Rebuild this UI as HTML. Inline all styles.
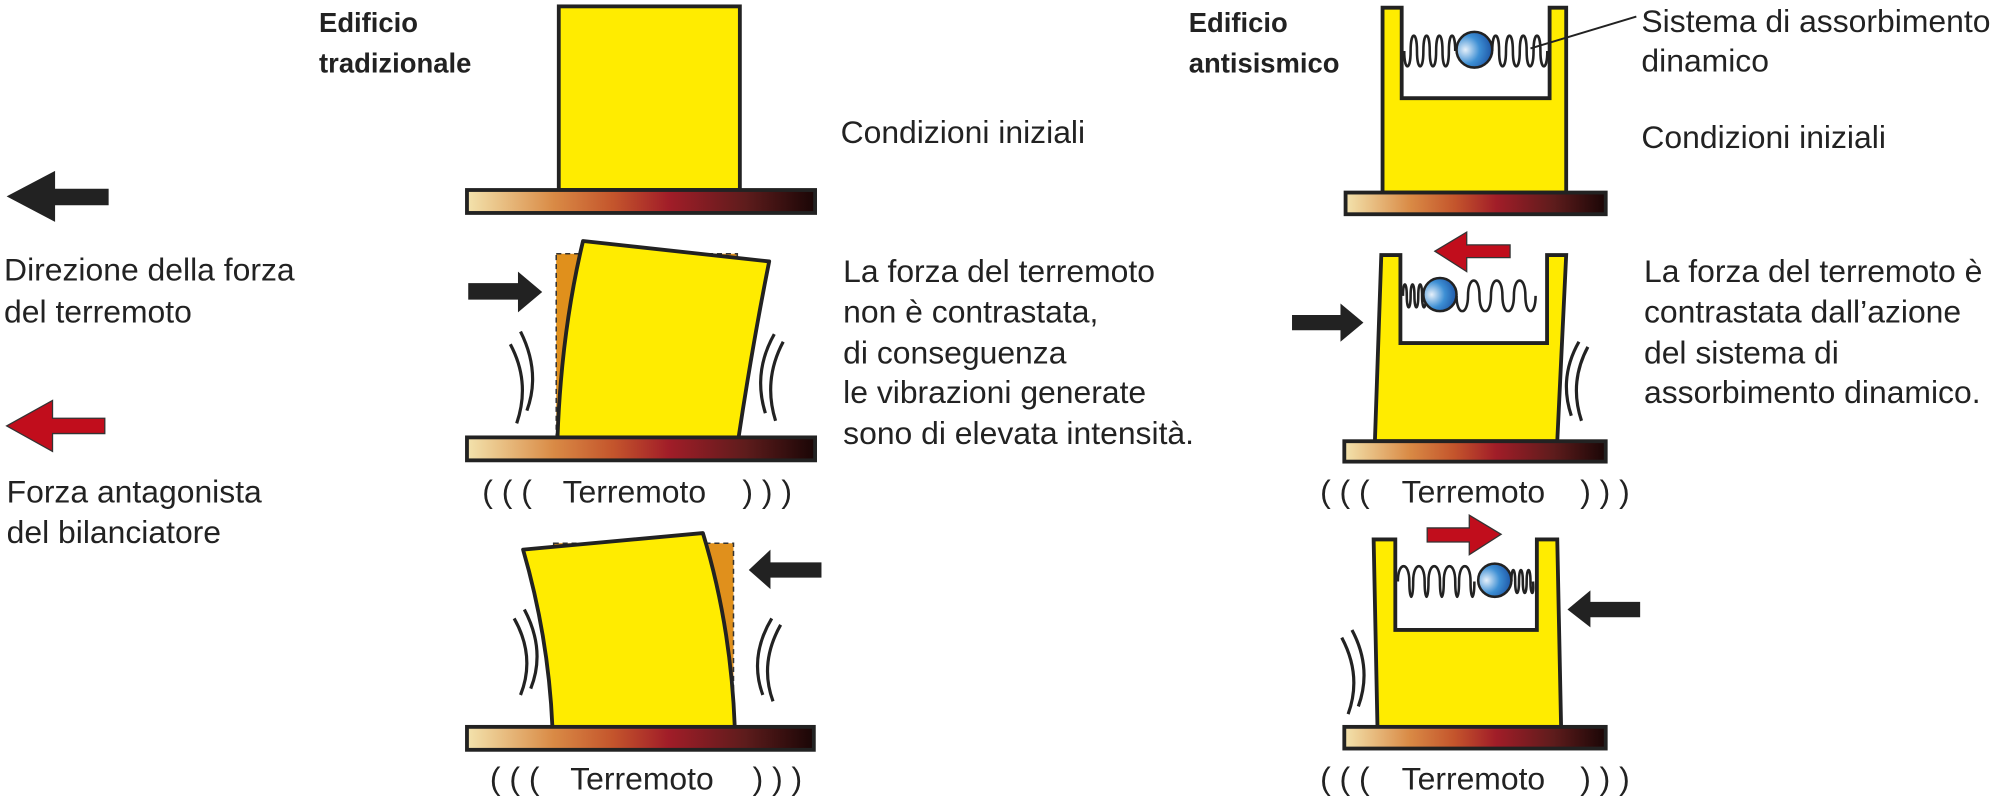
<!DOCTYPE html>
<html><head><meta charset="utf-8">
<style>
html,body{margin:0;padding:0;background:#fff;}
svg{display:block;}
text{font-family:"Liberation Sans",Arial,sans-serif;fill:#222;}
</style></head>
<body>
<svg width="2000" height="797" viewBox="0 0 1568 625" xmlns="http://www.w3.org/2000/svg">
<defs>
<linearGradient id="g" x1="0" y1="0" x2="1" y2="0">
<stop offset="0" stop-color="#f3e3ad"/>
<stop offset="0.25" stop-color="#d98a45"/>
<stop offset="0.42" stop-color="#c4552c"/>
<stop offset="0.58" stop-color="#a11d28"/>
<stop offset="0.8" stop-color="#5e1c1c"/>
<stop offset="1" stop-color="#1a0606"/>
</linearGradient>
<radialGradient id="ball" cx="0.25" cy="0.5" r="0.8">
<stop offset="0" stop-color="#e6f0fa"/>
<stop offset="0.5" stop-color="#3d8fd4"/>
<stop offset="1" stop-color="#1a4fa0"/>
</radialGradient>
</defs>

<!-- Legend -->
<polygon points="5,154 43,134 43,148 85,148 85,161 43,161 43,174" fill="#222"/>
<polygon points="5,334 41,314 41,328 82,328 82,340 41,340 41,354" fill="#c10d1c" stroke="#333" stroke-width="1"/>
<text x="3" y="220" font-size="25">Direzione della forza</text>
<text x="3" y="253" font-size="25">del terremoto</text>
<text x="5" y="394" font-size="25">Forza antagonista</text>
<text x="5" y="426" font-size="25">del bilanciatore</text>

<!-- Left titles -->
<text x="250" y="25" font-size="21.5" font-weight="bold">Edificio</text>
<text x="250" y="57" font-size="21.5" font-weight="bold">tradizionale</text>

<!-- Building 1 -->
<rect x="438" y="5" width="142" height="144" fill="#ffec00" stroke="#222" stroke-width="3"/>
<rect x="366" y="149" width="273" height="18" fill="url(#g)" stroke="#222" stroke-width="3"/>
<text x="659" y="112" font-size="25">Condizioni iniziali</text>

<!-- Building 2 -->
<rect x="436" y="199" width="142" height="144" fill="#e0901c" stroke="#333" stroke-width="1.2" stroke-dasharray="4,3"/>
<path d="M437,343 Q440,260 457,189 L603,205 Q590,270 579,343 Z" fill="#ffec00" stroke="#222" stroke-width="3" stroke-linejoin="round"/>
<rect x="366" y="343" width="273" height="18" fill="url(#g)" stroke="#222" stroke-width="3"/>
<polygon points="425,229 406,213 406,222 367,222 367,235 406,235 406,245" fill="#222"/>
<path d="M400,270 Q416,300 405,332 M408,260 Q424,292 413,322" fill="none" stroke="#222" stroke-width="2.5"/>
<path d="M614,268 Q598,298 608,330 M607,262 Q590,292 600,324" fill="none" stroke="#222" stroke-width="2.5"/>
<text x="378" y="394" font-size="25">( ( (</text>
<text x="441" y="394" font-size="25">Terremoto</text>
<text x="582" y="394" font-size="25">) ) )</text>
<text x="661" y="221" font-size="25">La forza del terremoto</text>
<text x="661" y="253" font-size="25">non è contrastata,</text>
<text x="661" y="285" font-size="25">di conseguenza</text>
<text x="661" y="316" font-size="25">le vibrazioni generate</text>
<text x="661" y="348" font-size="25">sono di elevata intensità.</text>

<!-- Building 3 -->
<rect x="434" y="426" width="141" height="144" fill="#e0901c" stroke="#333" stroke-width="1.2" stroke-dasharray="4,3"/>
<path d="M433,570 Q430,500 410,431 L551,418 Q573,490 576,570 Z" fill="#ffec00" stroke="#222" stroke-width="3" stroke-linejoin="round"/>
<rect x="366" y="570" width="272" height="18" fill="url(#g)" stroke="#222" stroke-width="3"/>
<polygon points="587,447 604,431 604,441 644,441 644,453 604,453 604,462" fill="#222"/>
<path d="M403,485 Q420,515 408,545 M411,478 Q428,510 416,540" fill="none" stroke="#222" stroke-width="2.5"/>
<path d="M612,490 Q595,520 606,550 M605,485 Q587,515 598,545" fill="none" stroke="#222" stroke-width="2.5"/>
<text x="384" y="619" font-size="25">( ( (</text>
<text x="447" y="619" font-size="25">Terremoto</text>
<text x="590" y="619" font-size="25">) ) )</text>

<!-- Right titles -->
<text x="932" y="25" font-size="21.5" font-weight="bold">Edificio</text>
<text x="932" y="57" font-size="21.5" font-weight="bold">antisismico</text>

<!-- Building R1 -->
<path d="M1084,151 L1084,6 L1099,6 L1099,77 L1215,77 L1215,6 L1228,6 L1228,151 Z" fill="#ffec00" stroke="#222" stroke-width="3"/>
<path d="M1101,40 c0,16 5,16 5,0 c0,-16 5,-16 5,0 c0,16 5,16 5,0 c0,-16 5,-16 5,0 c0,16 5,16 5,0 c0,-16 5,-16 5,0 c0,16 5,16 5,0 c0,-16 5,-16 5,0" fill="none" stroke="#222" stroke-width="2"/>
<path d="M1170,40 c0,-16 5.4,-16 5.4,0 c0,16 5.4,16 5.4,0 c0,-16 5.4,-16 5.4,0 c0,16 5.4,16 5.4,0 c0,-16 5.4,-16 5.4,0 c0,16 5.4,16 5.4,0 c0,-16 5.4,-16 5.4,0 c0,16 5.4,16 5.4,0" fill="none" stroke="#222" stroke-width="2"/>
<circle cx="1156" cy="39" r="14" fill="url(#ball)" stroke="#222" stroke-width="2"/>
<line x1="1200" y1="38" x2="1283" y2="13" stroke="#222" stroke-width="1.5"/>
<rect x="1055" y="151" width="204" height="17" fill="url(#g)" stroke="#222" stroke-width="3"/>
<text x="1287" y="25" font-size="25">Sistema di assorbimento</text>
<text x="1287" y="56" font-size="25">dinamico</text>
<text x="1287" y="116" font-size="25">Condizioni iniziali</text>

<!-- Building R2 -->
<path d="M1078,346 L1083,200 L1098,200 L1098,269 L1213,269 L1213,200 L1228,200 L1221,346 Z" fill="#ffec00" stroke="#222" stroke-width="3"/>
<path d="M1100,232 c0,-12 3,-12 3,0 c0,12 3,12 3,0 c0,-12 3,-12 3,0 c0,12 3,12 3,0 c0,-12 3,-12 3,0 c0,12 3,12 3,0" fill="none" stroke="#222" stroke-width="2"/>
<path d="M1142,232 c0,16 9,16 9,0 c0,-16 9,-16 9,0 c0,16 9,16 9,0 c0,-16 9,-16 9,0 c0,16 9,16 9,0 c0,-16 9,-16 9,0 c0,16 8,16 8,0" fill="none" stroke="#222" stroke-width="2"/>
<circle cx="1129" cy="231" r="13" fill="url(#ball)" stroke="#222" stroke-width="2"/>
<polygon points="1125,197 1150,182 1150,192 1184,192 1184,202 1150,202 1150,213" fill="#c10d1c" stroke="#333" stroke-width="1"/>
<polygon points="1069,253 1051,238 1051,247 1013,247 1013,259 1051,259 1051,268" fill="#222"/>
<path d="M1245,272 Q1230,300 1240,330 M1238,268 Q1222,296 1232,326" fill="none" stroke="#222" stroke-width="2.5"/>
<rect x="1054" y="346" width="205" height="16" fill="url(#g)" stroke="#222" stroke-width="3"/>
<text x="1035" y="394" font-size="25">( ( (</text>
<text x="1099" y="394" font-size="25">Terremoto</text>
<text x="1239" y="394" font-size="25">) ) )</text>
<text x="1289" y="221" font-size="25">La forza del terremoto è</text>
<text x="1289" y="253" font-size="25">contrastata dall’azione</text>
<text x="1289" y="285" font-size="25">del sistema di</text>
<text x="1289" y="316" font-size="25">assorbimento dinamico.</text>

<!-- Building R3 -->
<path d="M1080,570 L1077,423 L1094,423 L1094,494 L1205,494 L1205,423 L1221,423 L1224,570 Z" fill="#ffec00" stroke="#222" stroke-width="3"/>
<path d="M1096,456 c0,-16 9,-16 9,0 c0,16 3,16 3,0 c0,-16 9,-16 9,0 c0,16 3,16 3,0 c0,-16 9,-16 9,0 c0,16 3,16 3,0 c0,-16 9,-16 9,0 c0,16 3,16 3,0 c0,-16 9,-16 9,0 c0,16 3,16 3,0" fill="none" stroke="#222" stroke-width="2"/>
<path d="M1185,456 c0,-12 3,-12 3,0 c0,12 3,12 3,0 c0,-12 3,-12 3,0 c0,12 3,12 3,0 c0,-12 3,-12 3,0 c0,12 3,12 2,0" fill="none" stroke="#222" stroke-width="2"/>
<circle cx="1172" cy="455" r="13" fill="url(#ball)" stroke="#222" stroke-width="2"/>
<polygon points="1177,419 1152,404 1152,414 1119,414 1119,425 1152,425 1152,435" fill="#c10d1c" stroke="#333" stroke-width="1"/>
<polygon points="1229,478 1247,463 1247,472 1286,472 1286,484 1247,484 1247,492" fill="#222"/>
<path d="M1052,500 Q1068,530 1057,560 M1060,494 Q1076,524 1065,554" fill="none" stroke="#222" stroke-width="2.5"/>
<rect x="1054" y="570" width="205" height="17" fill="url(#g)" stroke="#222" stroke-width="3"/>
<text x="1035" y="619" font-size="25">( ( (</text>
<text x="1099" y="619" font-size="25">Terremoto</text>
<text x="1239" y="619" font-size="25">) ) )</text>
</svg>
</body></html>
